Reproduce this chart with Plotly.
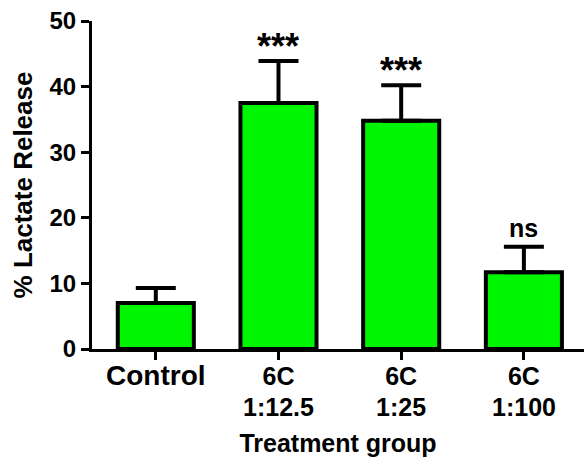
import plotly.graph_objects as go

categories = ["Control", "6C", "6C", "6C"]
category_line2 = ["", "1:12.5", "1:25", "1:100"]
means = [7.0, 37.5, 34.8, 11.7]
errors_up = [2.3, 6.4, 5.4, 3.9]
significance = ["", "***", "***", "ns"]

FONT = "Liberation Sans, Arial, sans-serif"
xpos = list(range(len(categories)))

fig = go.Figure()
fig.add_trace(go.Bar(
    x=xpos, y=means, width=0.62,
    marker=dict(color="#00f500", line=dict(color="black", width=4)),
    error_y=dict(type="data", symmetric=False, array=errors_up,
                 arrayminus=[0] * len(means), color="black",
                 thickness=4, width=20),
))

for xi, m, e, s in zip(xpos, means, errors_up, significance):
    if not s:
        continue
    big = s.startswith("*")
    fig.add_annotation(
        x=xi, y=m + e, xref="x", yref="y", text=s, showarrow=False,
        xanchor="center", yanchor="bottom",
        yshift=-8 if big else 3,
        font=dict(family=FONT, size=36 if big else 25, color="black", weight="bold"),
    )

for xi, t in zip(xpos, category_line2):
    if not t:
        continue
    fig.add_annotation(
        x=xi, y=-0.177, xref="x", yref="paper", text=t, showarrow=False,
        xanchor="center", yanchor="middle",
        font=dict(family=FONT, size=25, color="black", weight="bold"),
    )

ticktext = [
    f"<span style='font-size:28px'>{c}</span>" if c == "Control" else c
    for c in categories
]

fig.update_layout(
    width=584, height=458,
    margin=dict(l=92, r=0, t=21, b=109),
    plot_bgcolor="white", paper_bgcolor="white",
    showlegend=False, bargap=0.3,
)
fig.update_xaxes(
    tickmode="array", tickvals=xpos, ticktext=ticktext,
    range=[-0.52, 3.49],
    showline=True, linecolor="black", linewidth=3,
    ticks="outside", ticklen=8, tickwidth=3, tickcolor="black",
    ticklabelstandoff=-5,
    showgrid=False, zeroline=False,
    tickfont=dict(family=FONT, size=25, color="black", weight="bold"),
    title=dict(text="Treatment group", standoff=45,
               font=dict(family=FONT, size=25, color="black", weight="bold")),
)
fig.update_yaxes(
    range=[0, 50], tickvals=[0, 10, 20, 30, 40, 50],
    showline=True, linecolor="black", linewidth=3,
    ticks="outside", ticklen=8, tickwidth=3, tickcolor="black",
    showgrid=False, zeroline=False,
    tickfont=dict(family=FONT, size=24, color="black", weight="bold"),
    title=dict(text="% Lactate Release", standoff=10,
               font=dict(family=FONT, size=26, color="black", weight="bold")),
)
fig.write_html("out.html")
